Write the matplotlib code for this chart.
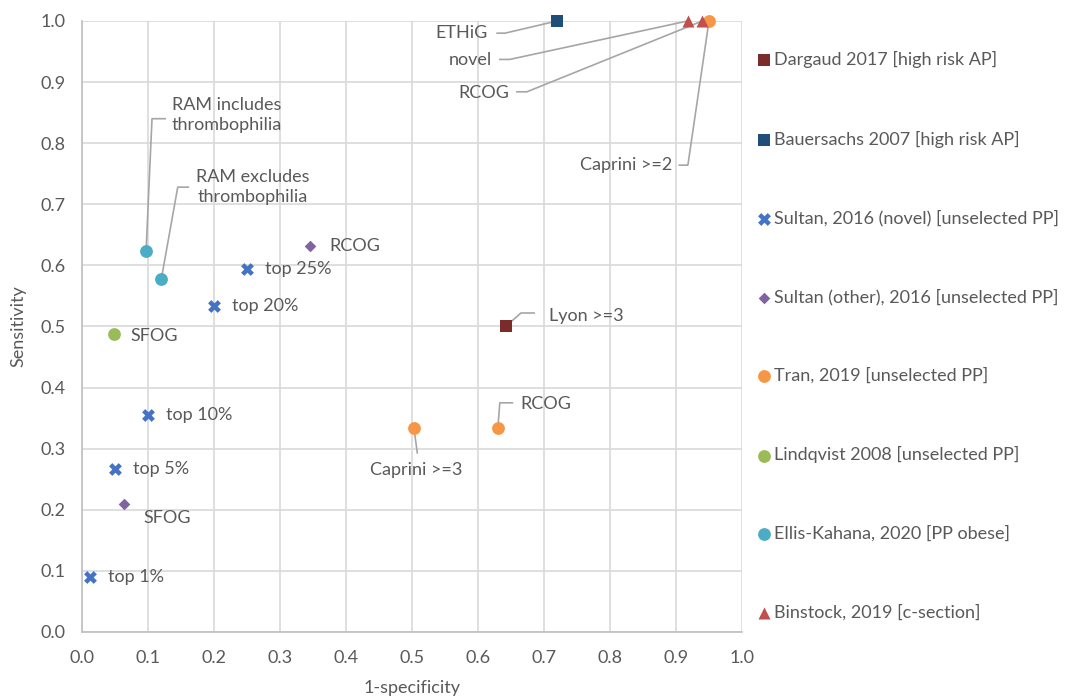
import matplotlib.pyplot as plt

# study results: 1-specificity (x) against sensitivity (y)
dargaud_x = [0.642]
dargaud_y = [0.5]
dargaud_lab = ["Lyon >=3"]

bauer_x = [0.72]
bauer_y = [1.0]
bauer_lab = ["ETHiG"]

sultan_novel_x = [0.012, 0.05, 0.1, 0.2, 0.25]
sultan_novel_y = [0.09, 0.267, 0.355, 0.533, 0.594]
sultan_novel_lab = ["top 1%", "top 5%", "top 10%", "top 20%", "top 25%"]

sultan_other_x = [0.345, 0.064]
sultan_other_y = [0.632, 0.21]
sultan_other_lab = ["RCOG", "SFOG"]

tran_x = [0.503, 0.63, 0.95]
tran_y = [0.333, 0.333, 1.0]
tran_lab = ["Caprini >=3", "RCOG", "Caprini >=2"]

lindqvist_x = [0.048]
lindqvist_y = [0.487]
lindqvist_lab = ["SFOG"]

ellis_x = [0.097, 0.12]
ellis_y = [0.623, 0.577]
ellis_lab = ["RAM includes\nthrombophilia", "RAM excludes\nthrombophilia"]

binstock_x = [0.918, 0.94]
binstock_y = [1.0, 1.0]
binstock_lab = ["novel", "RCOG"]

series = [
    ("Dargaud 2017 [high risk AP]", dargaud_x, dargaud_y, "s", "#7b2b2a", 75),
    ("Bauersachs 2007 [high risk AP]", bauer_x, bauer_y, "s", "#1f4e79", 75),
    ("Sultan, 2016 (novel) [unselected PP]", sultan_novel_x, sultan_novel_y, "X", "#4472c4", 85),
    ("Sultan (other), 2016 [unselected PP]", sultan_other_x, sultan_other_y, "D", "#8064a2", 35),
    ("Tran, 2019 [unselected PP]", tran_x, tran_y, "o", "#f79646", 85),
    ("Lindqvist 2008 [unselected PP]", lindqvist_x, lindqvist_y, "o", "#9bbb59", 85),
    ("Ellis-Kahana, 2020 [PP obese]", ellis_x, ellis_y, "o", "#4bacc6", 85),
    ("Binstock, 2019 [c-section]", binstock_x, binstock_y, "^", "#c0504d", 75),
]

txt = "#595959"
lead = "#a6a6a6"
fs = 13
plt.rcParams['font.family'] = ['Lato', 'DejaVu Sans']
plt.rcParams['font.size'] = fs

fig = plt.figure(figsize=(10.67, 6.98), dpi=100)
ax = fig.add_axes([0.0769, 0.0946, 0.6185, 0.8754])

for name, xs, ys, m, c, s in series:
    ax.scatter(xs, ys, marker=m, s=s, color=c, linewidths=0, label=name,
               zorder=3, clip_on=False)

# plain labels sitting next to their point (offset in points)
def side_labels(xs, ys, labs, offs):
    for x, y, t, (dx, dy) in zip(xs, ys, labs, offs):
        ax.annotate(t, (x, y), xytext=(dx, dy), textcoords="offset points",
                    ha="left", va="center", color=txt, fontsize=fs)

side_labels(sultan_novel_x, sultan_novel_y, sultan_novel_lab, [(13, 0)] * 5)
side_labels(sultan_other_x, sultan_other_y, sultan_other_lab, [(14, 0), (14, -10)])
side_labels(lindqvist_x, lindqvist_y, lindqvist_lab, [(12, -1)])

# labels with leader lines: text spot, alignment, elbow points (data units)
def leader(x, y, t, pos, ha, knee):
    ax.text(pos[0], pos[1], t, ha=ha, va="center", color=txt, fontsize=fs,
            multialignment="center", linespacing=1.35)
    px = [k[0] for k in knee] + [x]
    py = [k[1] for k in knee] + [y]
    ax.plot(px, py, color=lead, lw=1.2, zorder=2, clip_on=False)

leader(dargaud_x[0], dargaud_y[0], dargaud_lab[0], (0.708, 0.517), "left",
       [(0.685, 0.522), (0.665, 0.522)])
leader(bauer_x[0], bauer_y[0], bauer_lab[0], (0.615, 0.98), "right",
       [(0.629, 0.98), (0.641, 0.98)])
leader(tran_x[0], tran_y[0], tran_lab[0], (0.506, 0.265), "center",
       [(0.508, 0.293)])
leader(tran_x[1], tran_y[1], tran_lab[1], (0.664, 0.373), "left",
       [(0.652, 0.375), (0.633, 0.375)])
leader(tran_x[2], tran_y[2], tran_lab[2], (0.894, 0.764), "right",
       [(0.905, 0.764), (0.918, 0.764)])
leader(binstock_x[0], binstock_y[0], binstock_lab[0], (0.621, 0.936), "right",
       [(0.633, 0.937), (0.648, 0.937)])
leader(binstock_x[1], binstock_y[1], binstock_lab[1], (0.648, 0.882), "right",
       [(0.659, 0.884), (0.674, 0.884)])
leader(ellis_x[0], ellis_y[0], ellis_lab[0], (0.219, 0.846), "center",
       [(0.126, 0.840), (0.106, 0.840)])
leader(ellis_x[1], ellis_y[1], ellis_lab[1], (0.259, 0.728), "center",
       [(0.161, 0.728), (0.145, 0.728)])

ax.set_xlim(0, 1)
ax.set_ylim(0, 1)
ticks = [i / 10 for i in range(11)]
ax.set_xticks(ticks)
ax.set_yticks(ticks)
ax.set_xticklabels(["%.1f" % t for t in ticks])
ax.set_yticklabels(["%.1f" % t for t in ticks])
ax.tick_params(length=0, colors=txt, labelsize=fs)
ax.tick_params(axis="x", pad=13)
ax.tick_params(axis="y", pad=12)
ax.grid(True, color="#d9d9d9", lw=1.2)
ax.set_axisbelow(True)
for sp in ["top", "right"]:
    ax.spines[sp].set_visible(False)
for sp in ["left", "bottom"]:
    ax.spines[sp].set_color("#bfbfbf")
    ax.spines[sp].set_linewidth(1.2)

ax.set_xlabel("1-specificity", color=txt, fontsize=fs, labelpad=10)
ax.set_ylabel("Sensitivity", color=txt, fontsize=fs, labelpad=10)

leg = fig.legend(loc="upper left", bbox_to_anchor=(0.702, 0.937), frameon=False,
                 labelspacing=3.45, handletextpad=0.1, handlelength=0.9,
                 borderaxespad=0, fontsize=fs, scatterpoints=1)
for t in leg.get_texts():
    t.set_color(txt)

fig.savefig("out.png", dpi=100)
